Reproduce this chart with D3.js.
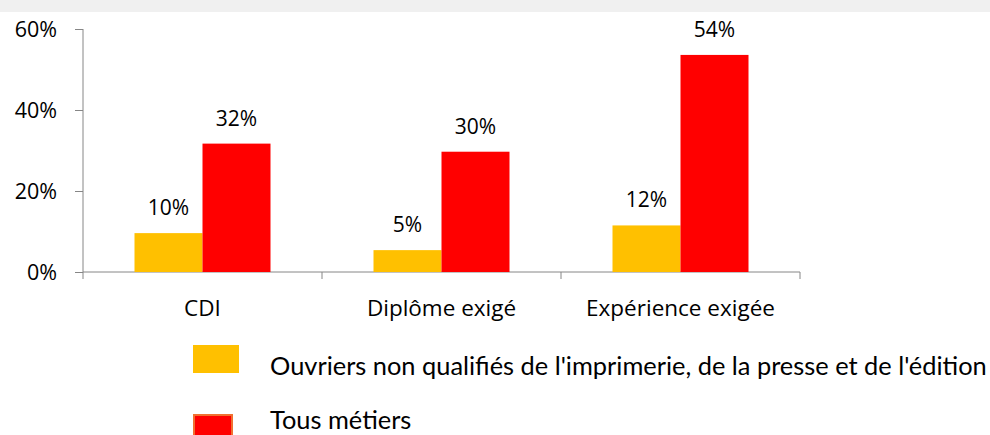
<!DOCTYPE html>
<html lang="fr">
<head>
  <meta charset="UTF-8">
  <title>CDI / diplôme / expérience</title>
  <script src="https://d3js.org/d3.v7.min.js"></script>
  <style>
    body { margin: 0; background: #fff; }
    svg { display: block; }
    .tick text { font-family: "Open Sans", sans-serif; fill: #000; }
    .lbl { font-family: "Open Sans", sans-serif; font-size: 21px; fill: #000; text-anchor: middle; }
    .legend { font-family: Lato, "Open Sans", sans-serif; font-size: 25.4px; fill: #000; }
  </style>
</head>
<body>
  <svg width="990" height="435"></svg>
  <script>
    var categories = ["CDI", "Diplôme exigé", "Expérience exigée"];
    var seriesNames = ["Ouvriers non qualifiés de l'imprimerie, de la presse et de l'édition", "Tous métiers"];
    var ouvriers = [0.096, 0.054, 0.115];
    var tous = [0.317, 0.297, 0.536];
    var yTicks = [0, 0.2, 0.4, 0.6];
    var colors = ["#ffc000", "#ff0000"];

    var svg = d3.select("svg");

    // grey strip along the top
    svg.append("rect").attr("x", 0).attr("y", 0).attr("width", 990).attr("height", 12).attr("fill", "#f0f0f0");

    var x = d3.scaleBand().domain(categories).range([83, 800]);
    var y = d3.scaleLinear().domain([0, 0.6]).range([272, 29]);
    var barW = 68;

    var g = svg.append("g");

    // y axis
    var yAxis = g.append("g")
      .attr("transform", "translate(83,0)")
      .call(d3.axisLeft(y).tickValues(yTicks).tickFormat(d3.format(".0%")).tickSize(8).tickPadding(18));
    yAxis.selectAll("text").style("font-size", "21.5px").attr("dy", "0.36em");

    // x axis with ticks on category boundaries
    var xAxis = g.append("g").attr("transform", "translate(0,272)");
    xAxis.append("line").attr("x1", 83).attr("x2", 800).attr("stroke", "#868686");
    var bounds = categories.map(function(c) { return x(c); }).concat([x.range()[1]]);
    xAxis.selectAll(".xt").data(bounds).enter().append("line")
      .attr("x1", function(d) { return d; }).attr("x2", function(d) { return d; })
      .attr("y1", 0).attr("y2", 7).attr("stroke", "#868686");
    xAxis.selectAll(".cat").data(categories).enter().append("text")
      .attr("class", "lbl")
      .style("font-size", "22.5px")
      .attr("x", function(d) { return x(d) + x.bandwidth() / 2; })
      .attr("y", 44)
      .text(function(d) { return d; });

    yAxis.selectAll("line, path").attr("stroke", "#868686");
    yAxis.select(".domain").attr("d", "M0,29V272");

    var fmt = d3.format(".0%");
    [ouvriers, tous].forEach(function(vals, s) {
      var bx = function(i) { return x(categories[i]) + x.bandwidth() / 2 - barW + s * barW; };
      g.selectAll(".bar" + s).data(vals).enter().append("rect")
        .attr("x", function(d, i) { return bx(i); })
        .attr("y", function(d) { return y(d); })
        .attr("width", barW)
        .attr("height", function(d) { return y(0) - y(d); })
        .attr("fill", colors[s]);
      g.selectAll(".val" + s).data(vals).enter().append("text")
        .attr("class", "lbl")
        .attr("x", function(d, i) { return bx(i) + barW / 2; })
        .attr("y", function(d) { return y(d) - 18; })
        .text(function(d) { return fmt(d); });
    });

    // legend
    var leg = svg.append("g");
    leg.append("rect").attr("x", 193).attr("y", 345).attr("width", 46).attr("height", 28).attr("fill", colors[0]);
    leg.append("rect").attr("x", 194).attr("y", 415).attr("width", 38).attr("height", 30)
      .attr("fill", colors[1]).attr("stroke", "#f07030").attr("stroke-width", 2);
    leg.append("text").attr("class", "legend").attr("x", 270).attr("y", 375).text(seriesNames[0]);
    leg.append("text").attr("class", "legend").attr("x", 270).attr("y", 429).text(seriesNames[1]);
  </script>
</body>
</html>
